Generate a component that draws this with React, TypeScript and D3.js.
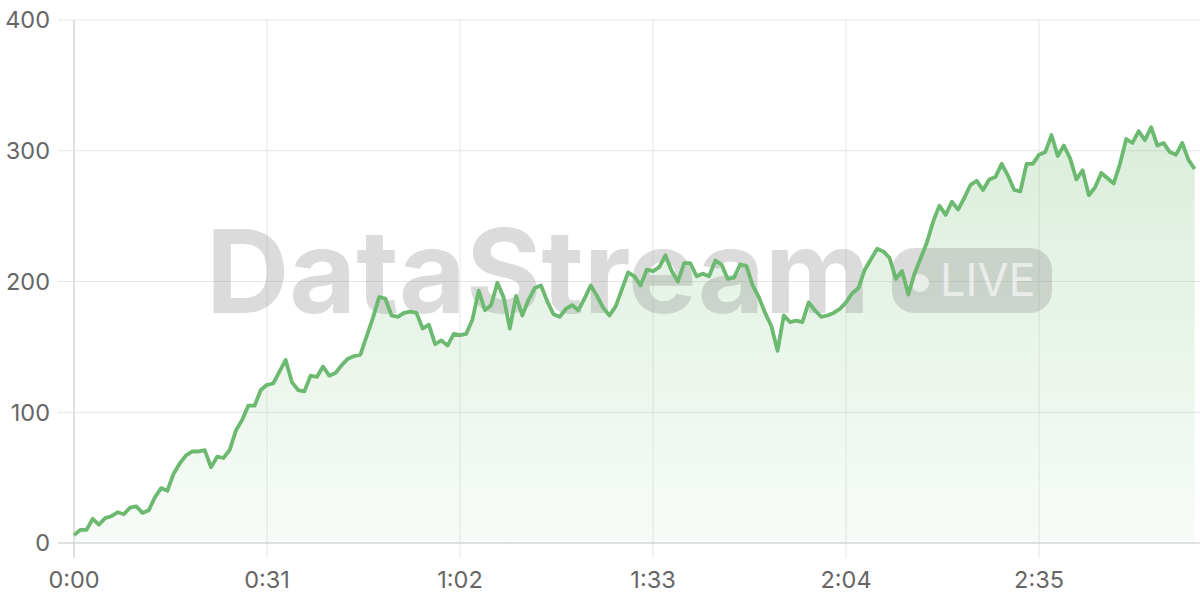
import React from "react";
import * as d3 from "d3";

const values: number[] = [
  6, 10, 10, 18.5, 14, 19, 20.5, 23.5, 22, 27,
  28, 23, 25, 35, 42, 40, 53, 61, 67, 70,
  70, 71, 58, 66, 65, 71, 86, 94, 105, 105,
  117, 121, 122, 131, 140, 123, 117, 116, 128, 127,
  135, 128, 130, 136, 141, 143, 144, 158, 172, 188,
  187, 174, 173, 176, 177, 176, 164, 167, 152, 155,
  151, 160, 159, 160, 171, 193, 178, 182, 199, 188,
  164, 189, 174, 186, 195, 197, 185, 175, 173, 179,
  182, 178, 187, 197, 189, 180, 174, 181, 194, 207,
  204, 197, 209, 208, 211, 220, 208, 200, 214, 214,
  204, 206, 204, 216, 213, 202, 203, 213, 212, 197,
  188, 176, 166, 147, 174, 169, 170, 169, 184, 178,
  173, 174, 176, 179, 184, 191, 195, 209, 217, 225,
  223, 218, 202, 208, 190, 206, 218, 230, 246, 258,
  251, 261, 255, 264, 274, 277, 270, 278, 280, 290,
  281, 270, 269, 290, 290, 297, 299, 312, 296, 304,
  294, 278, 285, 266, 272, 283, 279, 275, 290, 309,
  306, 315, 308, 318, 304, 306, 299, 297, 306, 293,
  286,
];
const seconds: number[] = values.map((_, i) => i);
const xTicks: number[] = [0, 31, 62, 93, 124, 155];
const yTicks: number[] = [0, 100, 200, 300, 400];
const watermark = "DataStream";
const badgeText = "LIVE";

const fmt = (s: number) => `${Math.floor(s / 60)}:${String(s % 60).padStart(2, "0")}`;

export default function App() {
  const W = 1200, H = 600;
  const left = 74, right = 1194.7, top = 20, bottom = 543;
  const x = d3.scaleLinear().domain([0, 180]).range([left, right]);
  const y = d3.scaleLinear().domain([0, 400]).range([bottom, top]);
  const data = seconds.map((s, i) => ({ s, v: values[i] }));
  const line = d3.line<{ s: number; v: number }>().x(d => x(d.s)).y(d => y(d.v));
  const area = d3.area<{ s: number; v: number }>().x(d => x(d.s)).y0(y(0)).y1(d => y(d.v));
  const green = "#6cb970";
  const font = "Inter, 'DejaVu Sans', sans-serif";
  return (
    <svg width={W} height={H} style={{ position: "absolute", left: 0, top: 0, background: "#fff" }}>
      <defs>
        <linearGradient id="fillg" gradientUnits="userSpaceOnUse" x1="0" y1={top} x2="0" y2={bottom}>
          <stop offset="0" stopColor={green} stopOpacity={0.3} />
          <stop offset="1" stopColor={green} stopOpacity={0.05} />
        </linearGradient>
      </defs>
      {yTicks.map(t => (
        <line key={"gy" + t} x1={58} x2={W} y1={y(t)} y2={y(t)} stroke="#e6e6e6" strokeWidth={1} />
      ))}
      {xTicks.map(t => (
        <line key={"gx" + t} x1={x(t)} x2={x(t)} y1={top} y2={558} stroke="#e6e6e6" strokeWidth={1} />
      ))}
      <line x1={left} x2={left} y1={top} y2={558} stroke="#d4d4d4" strokeWidth={1.2} />
      <path d={area(data) ?? ""} fill="url(#fillg)" />
      <g opacity={0.35}>
        <text x={206} y={313} fontFamily={font} fontWeight={700} fontSize={116} fill="#999"
          textLength={664} lengthAdjust="spacingAndGlyphs">{watermark}</text>
        <rect x={892} y={248} width={160} height={65} rx={22} fill="#999" />
      </g>
      <circle cx={920} cy={283} r={9} fill="#fff" opacity={0.6} />
      <text x={940} y={296} fontFamily={font} fontSize={45} fill="#fff" opacity={0.6}>{badgeText}</text>
      <line x1={58} x2={W} y1={bottom} y2={bottom} stroke="#d0d0d0" strokeWidth={1.2} />
      <path d={line(data) ?? ""} fill="none" stroke={green} strokeWidth={3.8} strokeLinejoin="round" />
      {yTicks.map(t => (
        <text key={"ly" + t} x={50} y={y(t) + 8.3} textAnchor="end" fontFamily={font} fontSize={23.5} fill="#666">{t}</text>
      ))}
      {xTicks.map(t => (
        <text key={"lx" + t} x={x(t)} y={588.3} textAnchor="middle" fontFamily={font} fontSize={23.5} fill="#666">{fmt(t)}</text>
      ))}
    </svg>
  );
}
